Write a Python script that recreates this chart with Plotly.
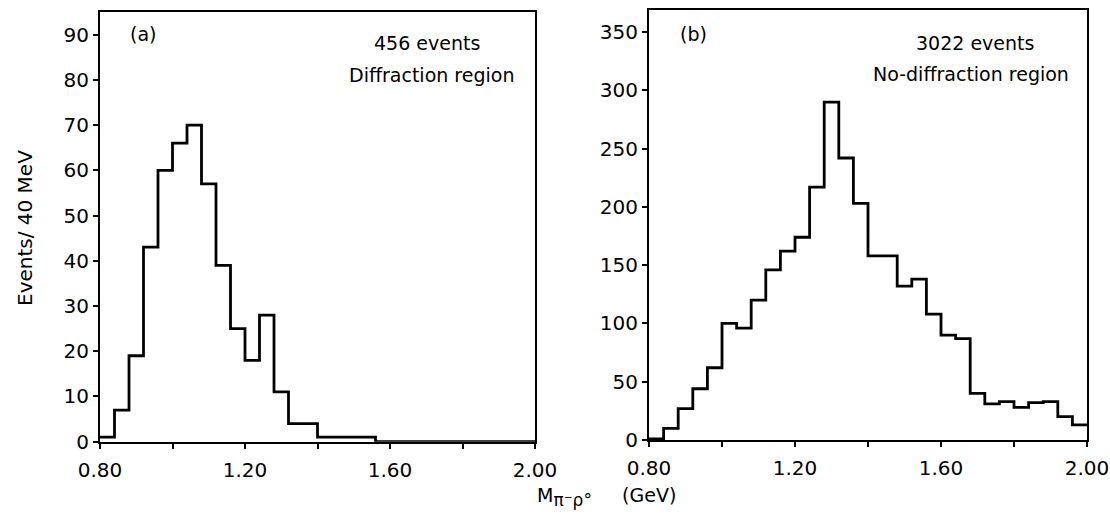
import plotly.graph_objects as go

# 40 MeV bins from 0.80 to 2.00 GeV
bin_edges = [round(0.80 + 0.04 * i, 2) for i in range(31)]

# (a) diffraction region, 456 events
counts_a = [1, 7, 19, 43, 60, 66, 70, 57, 39, 25, 18, 28, 11, 4, 4,
            1, 1, 1, 1, 0, 0, 0, 0, 0, 0, 0, 0, 0, 0, 0]

# (b) no-diffraction region, 3022 events
counts_b = [1, 10, 27, 44, 62, 100, 96, 120, 146, 162, 174, 217, 290, 242, 203,
            158, 158, 132, 138, 108, 90, 87, 40, 31, 33, 28, 32, 33, 20, 13]

FONT = "DejaVu Sans"
W, H = 1110, 527


def step_xy(edges, counts):
    # left edge of every bin, plus the closing right edge
    return list(edges), list(counts) + [counts[-1]]


fig = go.Figure()
for counts, xa, ya in [(counts_a, "x", "y"), (counts_b, "x2", "y2")]:
    xs, ys = step_xy(bin_edges, counts)
    fig.add_trace(go.Scatter(
        x=xs, y=ys, mode="lines", line=dict(shape="hv", color="black", width=2.8),
        xaxis=xa, yaxis=ya, showlegend=False, hoverinfo="skip"))


def px_x(p):
    return p / W


def px_y(p):
    return 1 - p / H


axis_common = dict(
    showline=True, linecolor="black", linewidth=2.2, mirror=True,
    ticks="outside", ticklen=5, tickwidth=2, tickcolor="black",
    showgrid=False, zeroline=False, automargin=False,
    tickfont=dict(family=FONT, size=20, color="black"),
)

x_common = dict(
    range=[0.8, 2.0], tick0=0.8, dtick=0.4, tickformat=".2f", ticklabelstandoff=4,
    minor=dict(tick0=0.8, dtick=0.2, ticks="outside", ticklen=5, tickwidth=2,
               tickcolor="black", showgrid=False),
    **axis_common,
)

fig.update_layout(
    width=W, height=H, margin=dict(l=0, r=0, t=0, b=0),
    paper_bgcolor="white", plot_bgcolor="white",
    xaxis=dict(domain=[px_x(100), px_x(535)], anchor="y", **x_common),
    yaxis=dict(domain=[px_y(441.7), px_y(12)], range=[0, 95], anchor="x",
               tick0=0, dtick=10, **axis_common),
    xaxis2=dict(domain=[px_x(649), px_x(1087)], anchor="y2", **x_common),
    yaxis2=dict(domain=[px_y(440), px_y(10)], range=[0, 369], anchor="x2",
                tick0=0, dtick=50, **axis_common),
)


def label(text, x, y, size=19, angle=0):
    fig.add_annotation(text=text, x=px_x(x), y=px_y(y), xref="paper", yref="paper",
                       showarrow=False, textangle=angle, xanchor="center", yanchor="middle",
                       font=dict(family=FONT, size=size, color="black"))


label("(a)", 143, 34)
label("456 events", 427, 43)
label("Diffraction region", 431, 75)
label("(b)", 693, 34)
label("3022 events", 975, 43)
label("No-diffraction region", 971, 74)
label("Events/ 40 MeV", 25, 228, size=20, angle=-90)
label("M<sub><span style='font-size:17px'>π⁻ρ°</span></sub>&nbsp;&nbsp;&nbsp;&nbsp;&nbsp;(GeV)",
      606, 497)

fig.write_html("out.html")
